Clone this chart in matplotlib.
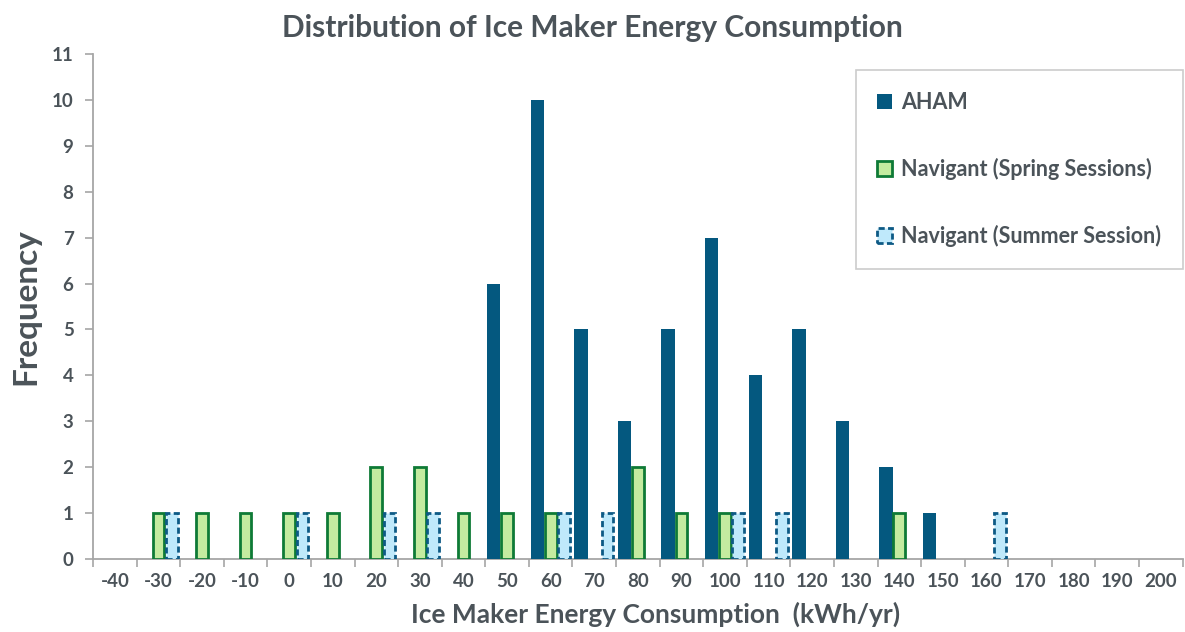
import numpy as np
import matplotlib.pyplot as plt

plt.rcParams['font.family'] = ['Lato', 'DejaVu Sans']
plt.rcParams['font.weight'] = 'bold'

txt = '#4b5359'
grey = '#a6a6a6'

bins = [-40, -30, -20, -10, 0, 10, 20, 30, 40, 50, 60, 70, 80, 90, 100,
        110, 120, 130, 140, 150, 160, 170, 180, 190, 200]
aham = [0, 0, 0, 0, 0, 0, 0, 0, 0, 6, 10, 5, 3, 5, 7, 4, 5, 3, 2, 1, 0, 0, 0, 0, 0]
spring = [0, 1, 1, 1, 1, 1, 2, 2, 1, 1, 1, 0, 2, 1, 1, 0, 0, 0, 1, 0, 0, 0, 0, 0, 0]
summer = [0, 1, 0, 0, 1, 0, 1, 1, 0, 0, 1, 1, 0, 0, 1, 1, 0, 0, 0, 0, 1, 0, 0, 0, 0]

fig = plt.figure(figsize=(11.85, 6.32), dpi=100)
ax = fig.add_axes([0.0785, 0.1155, 0.9195, 0.799])

x = np.arange(len(bins))
w = 0.305


def nz(vals):
    # only draw the non-empty bins (no outlines along the baseline)
    v = np.array(vals, dtype=float)
    return x[v > 0], v[v > 0]


xa, ya = nz(aham)
xs, ys = nz(spring)
xu, yu = nz(summer)
ax.bar(xa - w, ya, w, color='#04587f', label='AHAM', zorder=3)
ax.bar(xs, ys, w * 0.88, color='#c4eba0', edgecolor='#0e7a36', linewidth=2,
       label='Navigant (Spring Sessions)', zorder=3)
ax.bar(xu + w, yu, w * 0.88, color='#bfe9fb', edgecolor='#0d5a85', linewidth=2,
       linestyle=(0, (2.2, 1.2)), label='Navigant (Summer Session)', zorder=3)

ax.set_xlim(-0.5, len(bins) - 0.5)
ax.set_ylim(0, 11)
ax.set_yticks(range(0, 12))
ax.set_xticks(x)
ax.set_xticklabels([str(b) for b in bins])
ax.set_xticks(np.arange(-0.5, len(bins), 1), minor=True)
ax.tick_params(axis='x', which='major', length=0, pad=10, labelsize=13.5, labelcolor=txt)
ax.tick_params(axis='x', which='minor', length=6, width=1.2, color=grey)
ax.tick_params(axis='y', length=6, width=1.2, color=grey, labelsize=13.5,
               labelcolor=txt, pad=8)

for s in ['top', 'right']:
    ax.spines[s].set_visible(False)
for s in ['left', 'bottom']:
    ax.spines[s].set_color(grey)
    ax.spines[s].set_linewidth(1.3)

ax.set_title('Distribution of Ice Maker Energy Consumption', fontsize=21.5,
             fontweight='bold', color=txt, pad=12, x=0.458)
ax.set_ylabel('Frequency', fontsize=24, fontweight='bold', color=txt, labelpad=8)
ax.set_xlabel('Ice Maker Energy Consumption  (kWh/yr)', fontsize=19,
              fontweight='bold', color=txt, labelpad=6)
ax.xaxis.set_label_coords(0.516, -0.085)

leg = ax.legend(loc='upper right', bbox_to_anchor=(1.0, 0.968), fontsize=15.5,
                frameon=True, fancybox=False, edgecolor='#bfbfbf',
                labelspacing=2.1, handlelength=0.7, handleheight=0.7,
                handletextpad=0.4, borderpad=1.0, borderaxespad=0)
for t in leg.get_texts():
    t.set_color(txt)
leg.get_frame().set_linewidth(1.2)

fig.savefig('out.png', dpi=100)
